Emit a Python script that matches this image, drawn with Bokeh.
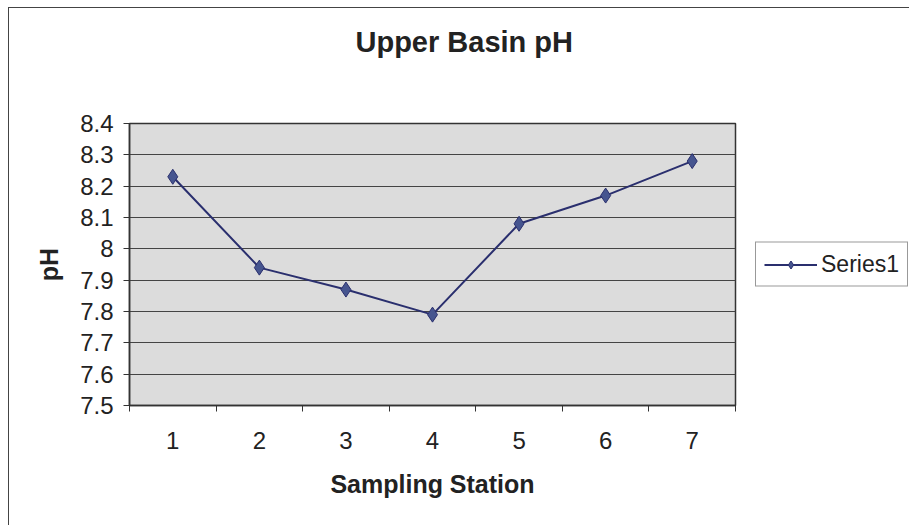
from bokeh.plotting import figure
from bokeh.models import FixedTicker, Legend, LegendItem, Range1d, Title
from bokeh.embed import file_html
from bokeh.resources import INLINE

# pH readings at each sampling station
stations = [1, 2, 3, 4, 5, 6, 7]
ph_values = [8.23, 7.94, 7.87, 7.79, 8.08, 8.17, 8.28]
y_ticks = [7.5, 7.6, 7.7, 7.8, 7.9, 8.0, 8.1, 8.2, 8.3, 8.4]

FONT = "Liberation Sans"
INK = "#2a2f6e"

p = figure(
    width=901, height=518, margin=(7, 0, 0, 8),
    frame_width=606, frame_height=282,
    output_backend="svg", toolbar_location=None,
    x_range=Range1d(0.5, 7.5), y_range=Range1d(7.5, 8.4),
    min_border_left=121, min_border_right=174,
    min_border_top=116, min_border_bottom=120,
)
p.styles = {"box-shadow": "inset 1px 1px 0 #444"}

p.border_fill_color = None
p.background_fill_color = "#dcdcdc"
p.outline_line_color = "#333333"
p.outline_line_width = 1.5

# empty spacer between the frame and the title
spacer = Title(text=" ", text_font_size="10px", standoff=53)
p.add_layout(spacer, "above")

title = Title(
    text="Upper Basin pH", align="left", offset=226, standoff=0,
    text_font=FONT, text_font_size="29px", text_font_style="bold",
    text_color="#222222",
)
p.add_layout(title, "above")

# grid
p.xgrid.grid_line_color = None
p.ygrid.ticker = FixedTicker(ticks=y_ticks)
p.ygrid.grid_line_color = "#444444"
p.ygrid.grid_line_width = 1.2

# x axis: labels at stations, ticks between categories
xa = p.xaxis[0]
xa.ticker = FixedTicker(ticks=stations, minor_ticks=[0.5, 1.5, 2.5, 3.5, 4.5, 5.5, 6.5, 7.5])
xa.major_tick_line_color = None
xa.major_tick_out = 6
xa.major_tick_in = 0
xa.minor_tick_line_color = "#333333"
xa.minor_tick_out = 6
xa.minor_tick_in = 0
xa.axis_line_color = "#333333"
xa.axis_line_width = 1.5
xa.major_label_standoff = 20
xa.major_label_text_font = FONT
xa.major_label_text_font_size = "24px"
xa.major_label_text_color = "#222222"
xa.axis_label = "Sampling Station"
xa.axis_label_text_font = FONT
xa.axis_label_text_font_size = "25px"
xa.axis_label_text_font_style = "bold"
xa.axis_label_text_color = "#222222"
xa.axis_label_standoff = 18

ya = p.yaxis[0]
ya.ticker = FixedTicker(ticks=y_ticks, minor_ticks=[])
ya.major_label_overrides = {8.0: "8"}
ya.major_tick_line_color = "#333333"
ya.major_tick_out = 6
ya.major_tick_in = 0
ya.minor_tick_line_color = None
ya.axis_line_color = "#333333"
ya.axis_line_width = 1.5
ya.major_label_standoff = 10
ya.major_label_text_font = FONT
ya.major_label_text_font_size = "24px"
ya.major_label_text_color = "#222222"
ya.axis_label = "pH"
ya.axis_label_text_font = FONT
ya.axis_label_text_font_size = "25px"
ya.axis_label_text_font_style = "bold"
ya.axis_label_text_color = "#222222"
ya.axis_label_standoff = 14

line = p.line(stations, ph_values, line_color=INK, line_width=2)
pts = p.scatter(stations, ph_values, marker="diamond", size=15,
                fill_color="#46558f", line_color=INK, line_width=1)

# legend sits to the right of the plot frame
legend = Legend(
    items=[LegendItem(label="Series1", renderers=[line, pts])],
    location="center_left",
    margin=20,
    padding=8,
    glyph_width=53,
    glyph_height=20,
    label_standoff=4,
    label_text_font=FONT,
    label_text_font_size="23px",
    label_text_color="#222222",
    border_line_color="#333333",
    border_line_width=1.2,
    background_fill_color="white",
)
p.add_layout(legend, "right")

open("out.html", "w").write(file_html(p, INLINE))
